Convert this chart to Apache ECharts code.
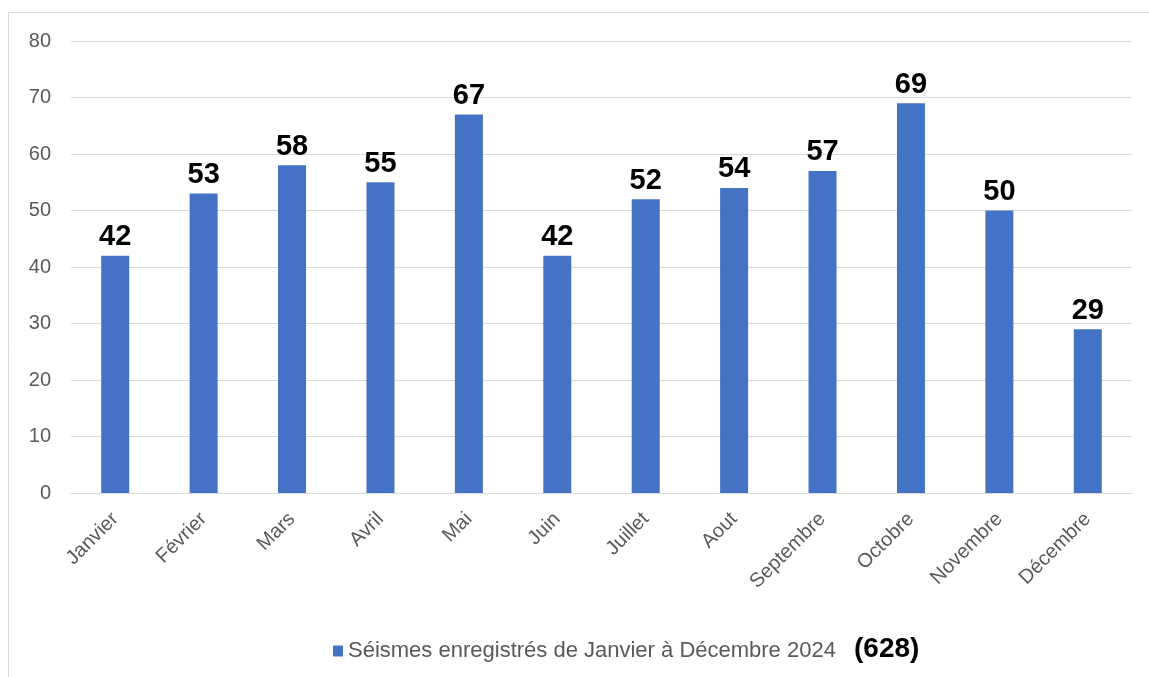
<!DOCTYPE html>
<html>
<head>
<meta charset="utf-8">
<script src="https://cdn.jsdelivr.net/npm/echarts@6/dist/echarts.min.js"></script>
<style>
html,body{margin:0;padding:0;background:#fff;}
#c{width:1149px;height:677px;}
</style>
</head>
<body>
<div id="c"></div>
<script>
const categories = ['Janvier','Février','Mars','Avril','Mai','Juin','Juillet','Aout','Septembre','Octobre','Novembre','Décembre'];
const seismes = [42,53,58,55,67,42,52,54,57,69,50,29];
const seriesName = 'Séismes enregistrés de Janvier à Décembre 2024';
const totalLabel = '(628)';
const yTicks = [0,10,20,30,40,50,60,70,80];

const chart = echarts.init(document.getElementById('c'), null, {renderer:'canvas'});
const font = '"Liberation Sans", Arial, sans-serif';
chart.setOption({
  animation:false,
  backgroundColor:'#fff',
  grid:{left:71, right:17, top:41, bottom:184, containLabel:false},
  legend:{
    data:[seriesName],
    left:328, top:635,
    itemWidth:10, itemHeight:11, itemGap:5,
    icon:'rect',
    textStyle:{color:'#595959', fontSize:22, fontFamily:font, padding:[0,0,0,0]}
  },
  xAxis:{
    type:'category', data:categories,
    axisLine:{lineStyle:{color:'#d9d9d9', width:1}},
    axisTick:{show:false},
    axisLabel:{rotate:45, color:'#595959', fontSize:20, fontFamily:font, margin:23, interval:0}
  },
  yAxis:{
    type:'value', min:yTicks[0], max:yTicks[yTicks.length-1], interval:10,
    axisLine:{show:false}, axisTick:{show:false},
    axisLabel:{color:'#595959', fontSize:20, fontFamily:font, margin:20},
    splitLine:{lineStyle:{color:'#d9d9d9', width:1}}
  },
  series:[{
    name:seriesName, type:'bar', data:seismes, barWidth:28,
    itemStyle:{color:'#4472C4'},
    label:{show:true, position:'top', distance:4, color:'#000', fontWeight:'bold', fontSize:29, fontFamily:font}
  }],
  graphic:[
    {type:'line', shape:{x1:8.5, y1:12.5, x2:1149, y2:12.5}, style:{stroke:'#d9d9d9', lineWidth:1}},
    {type:'line', shape:{x1:8.5, y1:12.5, x2:8.5, y2:677}, style:{stroke:'#d9d9d9', lineWidth:1}},
    {type:'text', left:854, top:635, style:{text:totalLabel, fill:'#000', font:'bold 28px "Liberation Sans", Arial, sans-serif'}}
  ]
});
</script>
</body>
</html>
